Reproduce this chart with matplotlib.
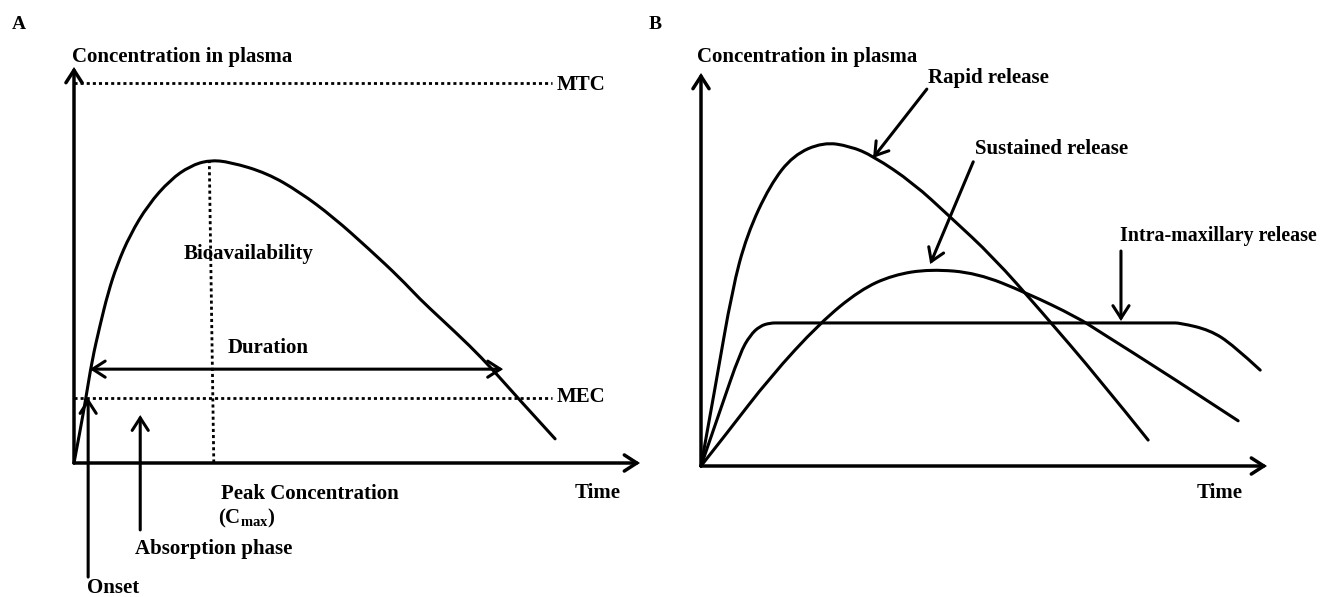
import matplotlib
matplotlib.use("Agg")
import matplotlib.pyplot as plt
from matplotlib.path import Path
from matplotlib.patches import PathPatch

plt.rcParams['font.family'] = ['Liberation Serif', 'DejaVu Serif']
plt.rcParams['font.weight'] = 'bold'
plt.rcParams['mathtext.fontset'] = 'custom'
plt.rcParams['mathtext.rm'] = 'Liberation Serif:bold'
plt.rcParams['mathtext.it'] = 'Liberation Serif:bold'
plt.rcParams['mathtext.bf'] = 'Liberation Serif:bold'

# ---------------- Panel A data (time, concentration in arbitrary units) ----------------
A_time = [0, 1.1, 2.1, 3.2, 4.6, 6.0, 7.6, 9.9, 13.1, 17.0, 20.5, 23.9,
          27.6, 34.1, 39.9, 45.8, 52.3, 57.6, 61.1, 64.7, 70.0, 73.9, 78.1, 85.0]
A_conc = [0, 8.3, 16.4, 26.0, 34.8, 42.9, 50.0, 57.6, 65.2, 71.5, 75.0, 76.5,
          76.0, 73.2, 68.4, 62.1, 53.8, 46.7, 41.4, 36.6, 29.5, 23.7, 16.9, 6.1]
A_MTC = 96.0
A_MEC = 16.4
A_level_end = 84.5
A_peak_time = [23.9, 24.7]
A_peak_conc = [76.5, 0.0]
A_duration_time = [2.8, 75.8]
A_duration_conc = 23.7
A_onset_time = 2.5
A_onset_conc = [-28.8, 16.4]
A_absorb_time = 11.7
A_absorb_conc = [-16.9, 12.1]

# ---------------- Panel B data ----------------
B_rapid_time = [0, 2.65, 5.5, 8.1, 12.2, 16.3, 21.6, 26.3, 30.4, 37.5, 44.0, 51.6, 59.9, 70.5, 79.0]
B_rapid_conc = [0, 21.1, 44.8, 58.8, 71.5, 79.1, 82.4, 81.4, 78.9, 72.0, 63.4, 53.2, 39.7, 21.9, 6.6]
B_sust_time = [0, 4.6, 12.2, 21.0, 28.1, 33.9, 40.5, 48.8, 57.6, 66.4, 70.5, 82.3, 94.9]
B_sust_conc = [0, 8.4, 22.6, 36.4, 44.8, 48.6, 50.1, 49.1, 44.0, 37.9, 34.1, 23.4, 11.5]
B_intra_time = [0, 3.4, 6.9, 8.7, 10.4, 12.2, 14.0, 83.0, 84.6, 89.9, 94.0, 98.8]
B_intra_conc = [0, 14.2, 28.8, 33.3, 35.6, 36.4, 36.4, 36.4, 36.4, 34.6, 30.8, 24.4]
B_rapid_arrow = [(39.9, 95.9), (30.4, 78.4)]
B_sust_arrow = [(48.1, 77.4), (40.5, 51.4)]
B_intra_arrow = [(74.2, 54.7), (74.2, 36.9)]

W, H = 1322, 597
fig = plt.figure(figsize=(W / 100, H / 100), dpi=100)
fig.patch.set_facecolor('white')

axA = fig.add_axes([74 / W, (H - 463) / H, (640 - 74) / W, (463 - 67) / H])
axB = fig.add_axes([701 / W, (H - 466) / H, (1267 - 701) / W, (466 - 73) / H])
for ax in (axA, axB):
    ax.set_xlim(0, 100)
    ax.set_ylim(0, 100)
    ax.axis('off')

FS = 15
LW_AX = 2.5
LW_C = 2.2
HEAD = dict(arrowstyle='->,head_length=0.9,head_width=0.58', mutation_scale=10,
            shrinkA=0, shrinkB=0, color='black', capstyle='round', joinstyle='miter')


def arrow(ax, tail, tip, lw=LW_C, style='->,head_length=0.9,head_width=0.58'):
    props = dict(HEAD)
    props['arrowstyle'] = style
    props['lw'] = lw
    ax.annotate('', xy=tip, xytext=tail, xycoords='data', textcoords='data',
                arrowprops=props, annotation_clip=False)


def label(ax, x, y, s, size=FS, z=3):
    ax.text(x, y, s, fontsize=size, fontweight='bold', ha='left', va='baseline',
            color='black', clip_on=False, zorder=z)


def smooth_curve(ax, xs, ys, lw=LW_C):
    # quadratic B-spline drawn by the library: read points act as control points
    verts = [(xs[0], ys[0])]
    codes = [Path.MOVETO]
    n = len(xs)
    for i in range(1, n - 1):
        if i == n - 2:
            end = (xs[-1], ys[-1])
        else:
            end = ((xs[i] + xs[i + 1]) / 2, (ys[i] + ys[i + 1]) / 2)
        verts += [(xs[i], ys[i]), end]
        codes += [Path.CURVE3, Path.CURVE3]
    patch = PathPatch(Path(verts, codes), fill=False, edgecolor='black', lw=lw,
                      capstyle='round', joinstyle='round', clip_on=False, zorder=3)
    ax.add_patch(patch)


dotted = dict(color='black', lw=2.0, linestyle=(0, (1.1, 1.1)), clip_on=False,
              dash_capstyle='butt')

# ---------------- Panel A ----------------
arrow(axA, (0, 0), (100, 0), lw=LW_AX)
arrow(axA, (0, 0), (0, 100), lw=LW_AX)
axA.plot([0, A_level_end], [A_MTC, A_MTC], **dotted)
axA.plot([0, A_level_end], [A_MEC, A_MEC], **dotted)
axA.plot(A_peak_time, A_peak_conc, zorder=4, **dotted)
smooth_curve(axA, A_time, A_conc)
arrow(axA, (A_duration_time[0], A_duration_conc), (A_duration_time[1], A_duration_conc),
      style='<->,head_length=0.9,head_width=0.58')
arrow(axA, (A_onset_time, A_onset_conc[0]), (A_onset_time, A_onset_conc[1]))
arrow(axA, (A_absorb_time, A_absorb_conc[0]), (A_absorb_time, A_absorb_conc[1]))

label(axA, -0.35, 101.3, 'Concentration in plasma')
label(axA, 85.3, 94.2, 'MTC')
label(axA, 85.3, 15.4, 'MEC')
label(axA, 19.3, 51.5, 'Bioavailability', z=2)
label(axA, 27.2, 27.8, 'Duration')
label(axA, 26.0, -9.1, 'Peak Concentration')
label(axA, 25.4, -15.2, r'(C$_{\mathrm{max}}$)')
label(axA, 10.8, -23.0, 'Absorption phase')
label(axA, 2.3, -32.9, 'Onset')
label(axA, 88.5, -8.8, 'Time')

# ---------------- Panel B ----------------
arrow(axB, (0, 0), (100, 0), lw=LW_AX)
arrow(axB, (0, 0), (0, 100), lw=LW_AX)
smooth_curve(axB, B_rapid_time, B_rapid_conc)
smooth_curve(axB, B_sust_time, B_sust_conc)
smooth_curve(axB, B_intra_time, B_intra_conc)
arrow(axB, B_rapid_arrow[0], B_rapid_arrow[1])
arrow(axB, B_sust_arrow[0], B_sust_arrow[1])
arrow(axB, B_intra_arrow[0], B_intra_arrow[1])

label(axB, -0.7, 102.8, 'Concentration in plasma')
label(axB, 40.1, 97.5, 'Rapid release')
label(axB, 48.4, 79.4, 'Sustained release')
label(axB, 74.0, 57.3, 'Intra-maxillary release', size=14.4)
label(axB, 87.6, -8.1, 'Time')

# Panel letters
fig.text(12 / W, 1 - 29 / H, 'A', fontsize=14, fontweight='bold', ha='left', va='baseline')
fig.text(649 / W, 1 - 29 / H, 'B', fontsize=14, fontweight='bold', ha='left', va='baseline')

fig.savefig('out.png', dpi=100, facecolor='white')
